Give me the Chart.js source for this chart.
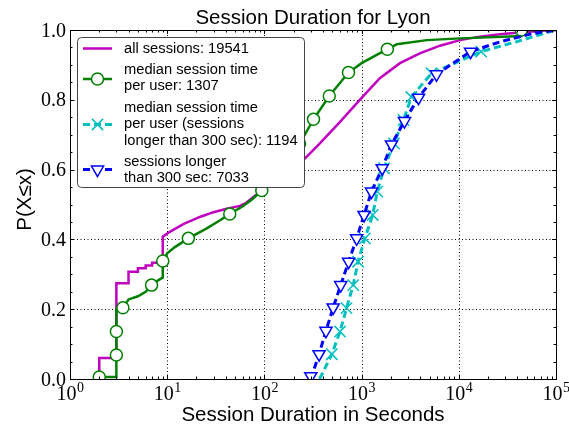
<!DOCTYPE html>
<html><head><meta charset="utf-8">
<script src="https://cdn.jsdelivr.net/npm/chart.js@4"></script>
<style>html,body{margin:0;padding:0;background:#fff}#wrap{width:569px;height:427px;position:relative}</style>
</head><body><div id="wrap"><canvas id="c" width="569" height="427"></canvas></div>
<script>
const chartTitle = 'Session Duration for Lyon';
const xAxisTitle = 'Session Duration in Seconds';
const yAxisTitle = 'P(X≤x)';
const seriesNames = [
  ['all sessions: 19541'],
  ['median session time', 'per user: 1307'],
  ['median session time', 'per user (sessions', 'longer than 300 sec): 1194'],
  ['sessions longer', 'than 300 sec: 7033']
];
const xTickValues = [1, 10, 100, 1000, 10000, 100000];
const xTickBase = '10';
const xTickExponents = ['0', '1', '2', '3', '4', '5'];
const yTickValues = [0, 0.2, 0.4, 0.6, 0.8, 1.0];
const yTickLabels = ['0.0', '0.2', '0.4', '0.6', '0.8', '1.0'];

// all sessions (step CDF)
const allX = [2,2,3,3,4,4,5,5,6,6,7,7,8,8,9,9,10,12,15,22,30,40,56,65,80,100,150,262,372,600,958,1540,2480,3970,6400,10300,16500,26500,42700,70000,100000];
const allP = [0,0.06,0.06,0.274,0.274,0.307,0.307,0.317,0.317,0.325,0.325,0.333,0.333,0.338,0.338,0.408,0.417,0.43,0.445,0.465,0.478,0.487,0.496,0.505,0.525,0.545,0.578,0.632,0.675,0.737,0.8,0.862,0.905,0.933,0.955,0.971,0.981,0.988,0.993,0.998,1.0];

// median session time per user
const userX = [2,3,3,3.5,4,5,6,6.9,8,9,9,10,12,16.5,25,35,44,60,75,94,150,230,320,465,733,1000,1840,2300,4700,10300,44000,44000,100000];
const userP = [0.006,0.006,0.2,0.204,0.228,0.237,0.25,0.269,0.282,0.291,0.338,0.36,0.378,0.403,0.43,0.455,0.473,0.495,0.515,0.54,0.607,0.674,0.744,0.811,0.878,0.905,0.945,0.959,0.971,0.976,0.983,1.0,1.0];
const userMarkX = [2,3,3,3.5,6.9,9,16.5,44,94,150,230,320,465,733,1840,44000];
const userMarkP = [0.006,0.069,0.136,0.204,0.269,0.338,0.403,0.473,0.54,0.607,0.674,0.744,0.811,0.878,0.945,1.0];

// median session time per user (sessions > 300 s)
const userLongX = [370,494,600,700,820,920,1080,1300,1450,1700,2150,2700,3250,5250,17000,40000,81000,100000];
const userLongP = [0,0.071,0.136,0.203,0.269,0.336,0.403,0.47,0.537,0.604,0.675,0.742,0.808,0.876,0.938,0.967,0.993,1.0];
const userLongMarkX = [494,600,700,820,920,1080,1300,1450,1700,2150,2700,3250,5250,17000];
const userLongMarkP = [0.071,0.136,0.203,0.269,0.336,0.403,0.47,0.537,0.604,0.675,0.742,0.808,0.876,0.938];

// sessions longer than 300 s
const longX = [300,365,430,510,610,735,890,1060,1265,1630,2030,2760,3850,5900,13200,26500,58000,100000];
const longP = [0,0.071,0.138,0.205,0.269,0.336,0.403,0.47,0.537,0.604,0.672,0.739,0.806,0.873,0.938,0.966,0.99,1.0];
const longMarkX = [300,365,430,510,610,735,890,1060,1265,1630,2030,2760,3850,5900,13200];
const longMarkP = [0.008,0.071,0.138,0.205,0.269,0.336,0.403,0.47,0.537,0.604,0.672,0.739,0.806,0.873,0.938];

const C_M = '#bf00bf', C_G = '#008000', C_C = '#00bfbf', C_B = '#0000ff';
const pts = (xs, ys) => xs.map((x, i) => ({x, y: ys[i]}));

function lineDs(xs, ys, color, dash, width, order) {
  return {data: pts(xs, ys), showLine: true, borderColor: color, borderWidth: width,
    borderDash: dash, pointRadius: 0, pointHoverRadius: 0, tension: 0, fill: false, order, clip: 0};
}
function markDs(xs, ys, color, style, radius, rot, order) {
  return {data: pts(xs, ys), showLine: false, pointStyle: style, pointRadius: radius,
    pointHoverRadius: radius, pointRotation: rot, pointBorderColor: color, pointBackgroundColor: '#ffffff',
    pointBorderWidth: 1.5, order, clip: 0};
}

function drawMarker(ctx, style, x, y, color) {
  ctx.save();
  ctx.strokeStyle = color; ctx.fillStyle = '#fff'; ctx.lineWidth = 1.5; ctx.setLineDash([]);
  ctx.beginPath();
  if (style === 'circle') { ctx.arc(x, y, 6, 0, Math.PI * 2); ctx.fill(); ctx.stroke(); }
  else if (style === 'tri') {
    const r = 7;
    ctx.moveTo(x, y + r);
    ctx.lineTo(x - r * Math.sin(Math.PI / 3), y - r / 2);
    ctx.lineTo(x + r * Math.sin(Math.PI / 3), y - r / 2);
    ctx.closePath(); ctx.fill(); ctx.stroke();
  } else if (style === 'x') {
    const d = 5.6;
    ctx.moveTo(x - d, y - d); ctx.lineTo(x + d, y + d);
    ctx.moveTo(x - d, y + d); ctx.lineTo(x + d, y - d); ctx.stroke();
  }
  ctx.restore();
}

const decor = {
  id: 'decor',
  beforeDatasetsDraw(chart) {
    const {ctx, chartArea: a, scales: {x, y}} = chart;
    ctx.save();
    ctx.strokeStyle = '#000'; ctx.lineWidth = 1; ctx.setLineDash([1, 2.5]);
    xTickValues.forEach(v => {
      const px = Math.round(x.getPixelForValue(v)) + 0.5;
      if (px <= a.left + 1 || px >= a.right - 1) return;
      ctx.beginPath(); ctx.moveTo(px, a.bottom); ctx.lineTo(px, a.top); ctx.stroke();
    });
    yTickValues.forEach(v => {
      const py = Math.round(y.getPixelForValue(v)) + 0.5;
      if (py <= a.top + 1 || py >= a.bottom - 1) return;
      ctx.beginPath(); ctx.moveTo(a.left, py); ctx.lineTo(a.right, py); ctx.stroke();
    });
    ctx.restore();
  },
  afterDatasetsDraw(chart) {
    const {ctx, chartArea: a, scales: {x, y}} = chart;
    ctx.save();
    ctx.setLineDash([]);
    ctx.strokeStyle = '#000'; ctx.lineWidth = 1;
    const tick = (x1, y1, x2, y2) => { ctx.beginPath(); ctx.moveTo(x1, y1); ctx.lineTo(x2, y2); ctx.stroke(); };
    xTickValues.forEach(v => {
      const px = Math.round(x.getPixelForValue(v)) + 0.5;
      tick(px, a.bottom, px, a.bottom - 4); tick(px, a.top, px, a.top + 4);
    });
    for (let d = 0; d < xTickValues.length - 1; d++) {
      for (let m = 2; m <= 9; m++) {
        const px = Math.round(x.getPixelForValue(xTickValues[d] * m)) + 0.5;
        tick(px, a.bottom, px, a.bottom - 2.5); tick(px, a.top, px, a.top + 2.5);
      }
    }
    yTickValues.forEach(v => {
      const py = Math.round(y.getPixelForValue(v)) + 0.5;
      tick(a.left, py, a.left + 4, py); tick(a.right, py, a.right - 4, py);
    });
    for (let i = 0; i < yTickValues.length - 1; i++) {
      for (let k = 1; k < 4; k++) {
        const v = yTickValues[i] + (yTickValues[i + 1] - yTickValues[i]) * k / 4;
        const py = Math.round(y.getPixelForValue(v)) + 0.5;
        tick(a.left, py, a.left + 2.5, py); tick(a.right, py, a.right - 2.5, py);
      }
    }
    ctx.strokeRect(Math.round(a.left) + 0.5, Math.round(a.top) + 0.5, Math.round(a.right - a.left), Math.round(a.bottom - a.top));

    // tick labels
    ctx.fillStyle = '#000';
    ctx.font = '20px "Liberation Serif"';
    ctx.textAlign = 'right'; ctx.textBaseline = 'alphabetic';
    yTickValues.forEach((v, i) => {
      ctx.fillText(yTickLabels[i], a.left - 4, y.getPixelForValue(v) + 6.5);
    });
    xTickValues.forEach((v, i) => {
      const px = x.getPixelForValue(v);
      ctx.font = '20px "Liberation Serif"';
      const wb = ctx.measureText(xTickBase).width;
      ctx.font = '14px "Liberation Serif"';
      const we = ctx.measureText(xTickExponents[i]).width;
      const left = px - (wb + we) / 2;
      ctx.textAlign = 'left';
      ctx.font = '20px "Liberation Serif"';
      ctx.fillText(xTickBase, left, a.bottom + 21);
      ctx.font = '14px "Liberation Serif"';
      ctx.fillText(xTickExponents[i], left + wb + 0.5, a.bottom + 12.5);
    });

    // titles
    ctx.font = '20.5px "Liberation Sans"';
    ctx.textAlign = 'center';
    const cx = (a.left + a.right) / 2;
    ctx.fillText(chartTitle, cx, 24);
    ctx.fillText(xAxisTitle, cx, 420.5);
    ctx.save();
    ctx.translate(31, (a.top + a.bottom) / 2 - 5);
    ctx.rotate(-Math.PI / 2);
    ctx.fillText(yAxisTitle, 0, 0);
    ctx.restore();

    // legend
    const bx = 77.5, by = 37.5, bw = 227, bh = 150, r = 4;
    ctx.beginPath();
    ctx.moveTo(bx + r, by); ctx.lineTo(bx + bw - r, by); ctx.arcTo(bx + bw, by, bx + bw, by + r, r);
    ctx.lineTo(bx + bw, by + bh - r); ctx.arcTo(bx + bw, by + bh, bx + bw - r, by + bh, r);
    ctx.lineTo(bx + r, by + bh); ctx.arcTo(bx, by + bh, bx, by + bh - r, r);
    ctx.lineTo(bx, by + r); ctx.arcTo(bx, by, bx + r, by, r); ctx.closePath();
    ctx.fillStyle = '#fff'; ctx.fill();
    ctx.strokeStyle = '#444'; ctx.lineWidth = 1; ctx.stroke();

    const entries = [
      {color: C_M, dash: [], width: 2.5, marker: null, textY: [48.5], handleY: 48.5},
      {color: C_G, dash: [], width: 2.5, marker: 'circle', textY: [69.5, 86], handleY: 79},
      {color: C_C, dash: [7, 4], width: 3, marker: 'x', textY: [107.5, 124, 140.5], handleY: 124.5},
      {color: C_B, dash: [7, 4], width: 3, marker: 'tri', textY: [161.5, 177.5], handleY: 169.5}
    ];
    entries.forEach((e, i) => {
      ctx.save();
      ctx.strokeStyle = e.color; ctx.lineWidth = e.width; ctx.setLineDash(e.dash);
      ctx.beginPath(); ctx.moveTo(83, e.handleY); ctx.lineTo(112, e.handleY); ctx.stroke();
      ctx.restore();
      if (e.marker) drawMarker(ctx, e.marker, 97.5, e.handleY, e.color);
      ctx.fillStyle = '#000';
      ctx.font = '14.7px "Liberation Sans"';
      ctx.textAlign = 'left'; ctx.textBaseline = 'middle';
      seriesNames[i].forEach((t, j) => ctx.fillText(t, 124, e.textY[j]));
    });
    ctx.restore();
  }
};

new Chart(document.getElementById('c'), {
  type: 'scatter',
  data: {
    datasets: [
      lineDs(allX, allP, C_M, [], 2.5, 9),
      lineDs(userX, userP, C_G, [], 2.5, 8),
      markDs(userMarkX, userMarkP, C_G, 'circle', 6, 0, 7),
      lineDs(userLongX, userLongP, C_C, [7, 4], 3, 6),
      markDs(userLongMarkX, userLongMarkP, C_C, 'crossRot', 8, 0, 5),
      lineDs(longX, longP, C_B, [7, 4], 3, 4),
      markDs(longMarkX, longMarkP, C_B, 'triangle', 7, 180, 3)
    ]
  },
  options: {
    responsive: false,
    animation: false,
    layout: {padding: {left: 70, top: 30, right: 13, bottom: 48}},
    scales: {
      x: {type: 'logarithmic', min: 1, max: 100000, display: false},
      y: {type: 'linear', min: 0, max: 1, display: false}
    },
    plugins: {legend: {display: false}, tooltip: {enabled: false}, title: {display: false}}
  },
  plugins: [decor]
});
</script>
</body></html>
